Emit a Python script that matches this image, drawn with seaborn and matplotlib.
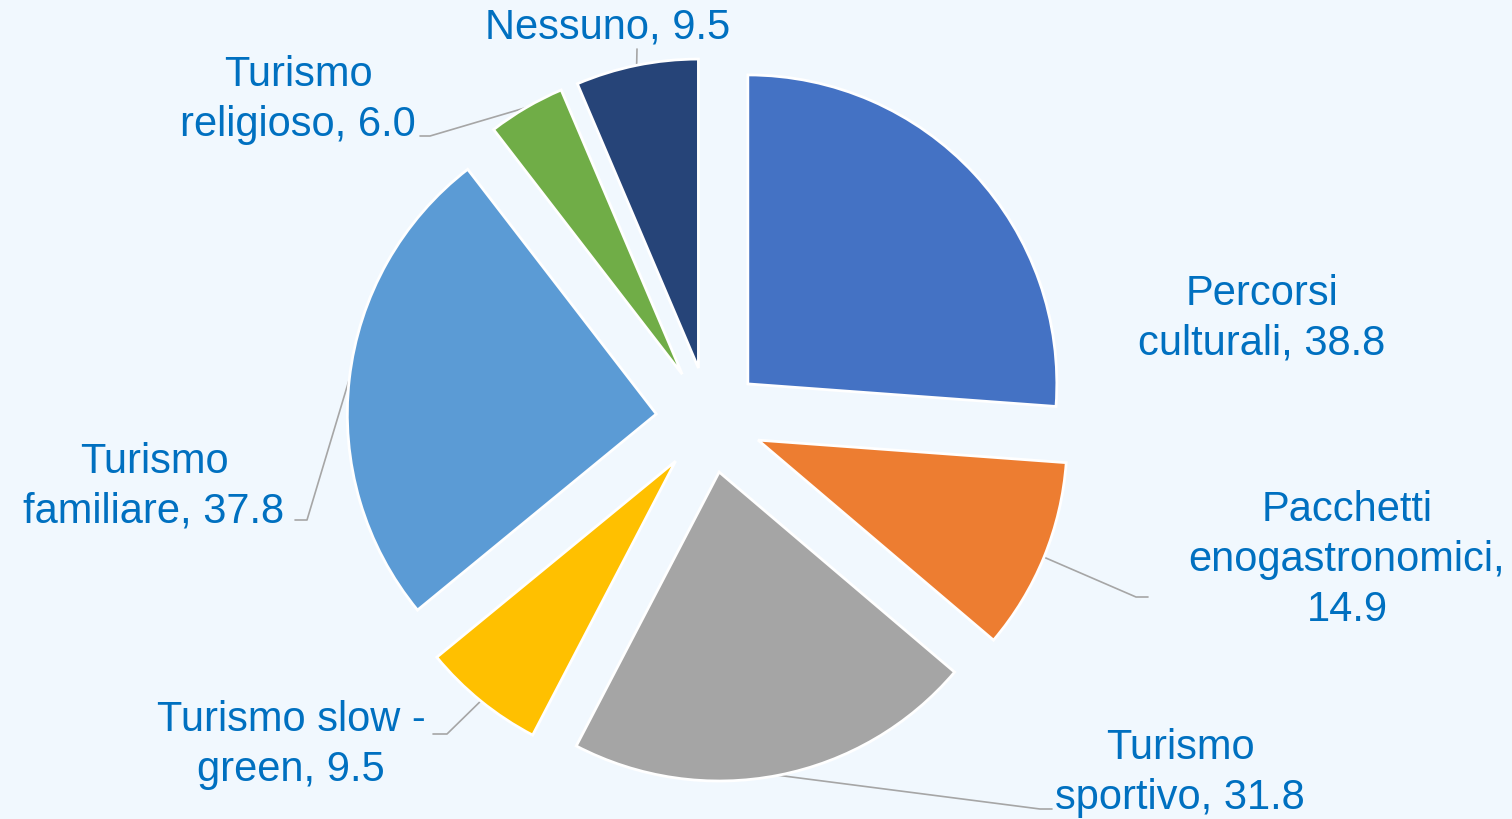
import matplotlib
matplotlib.use('Agg')
import matplotlib.pyplot as plt
import seaborn as sns
import numpy as np

# Dati del grafico
categorie = ['Percorsi\nculturali', 'Pacchetti\nenogastronomici', 'Turismo\nsportivo',
             'Turismo slow -\ngreen', 'Turismo\nfamiliare', 'Turismo\nreligioso', 'Nessuno']
valori = [38.8, 14.9, 31.8, 9.5, 37.8, 6.0, 9.5]
separatori = [', ', ',\n', ', ', ', ', ', ', ', ', ', ']
colori = ['#4472C4', '#ED7D31', '#A5A5A5', '#FFC000', '#5B9BD5', '#70AD47', '#264478']

# Layout (coordinate in pixel, y verso l'alto)
sfondo = '#F1F8FE'
centro = (709, 399)
raggio = 309
esplosione = 53
pos_etichette = [(1262, 501), (1347, 260), (1180, 47), (291, 75), (154, 333), (298, 720), (608, 792)]
# gomito della linea guida e fine del tratto orizzontale
gomiti = [None, (1136, 222), (1040, 10), (447, 85), (307, 299), (430, 683), (637, 770)]
fini = [None, (1148, 222), (1052, 10), (433, 85), (295, 299), (420, 683), (637, 770)]

sns.set_theme(style='white')
plt.rcParams['font.family'] = ['Liberation Sans', 'DejaVu Sans']

fig = plt.figure(figsize=(15.12, 8.2), dpi=100, facecolor=sfondo)
ax = fig.add_axes([0, 0, 1, 1])
ax.set_facecolor(sfondo)

wedges, _ = ax.pie(valori, colors=colori, startangle=90, counterclock=False,
                   radius=raggio, center=centro, explode=[esplosione] * len(valori),
                   wedgeprops=dict(edgecolor='white', linewidth=2))

ax.set_xlim(0, 1512)
ax.set_ylim(0, 820)
ax.set_aspect('auto')
ax.axis('off')

# Etichette e linee guida
for i, w in enumerate(wedges):
    testo = categorie[i] + separatori[i] + f'{valori[i]:.1f}'
    ax.text(pos_etichette[i][0], pos_etichette[i][1], testo, ha='center', va='center',
            fontsize=30, color='#0070C0', linespacing=1.32)
    if gomiti[i] is None:
        continue
    ang = np.deg2rad((w.theta1 + w.theta2) / 2)
    x0 = w.center[0] + w.r * np.cos(ang)
    y0 = w.center[1] + w.r * np.sin(ang)
    ax.plot([x0, gomiti[i][0], fini[i][0]], [y0, gomiti[i][1], fini[i][1]],
            color='#A6A6A6', lw=1.2, zorder=0)

fig.savefig('out.png', dpi=100, facecolor=sfondo)
